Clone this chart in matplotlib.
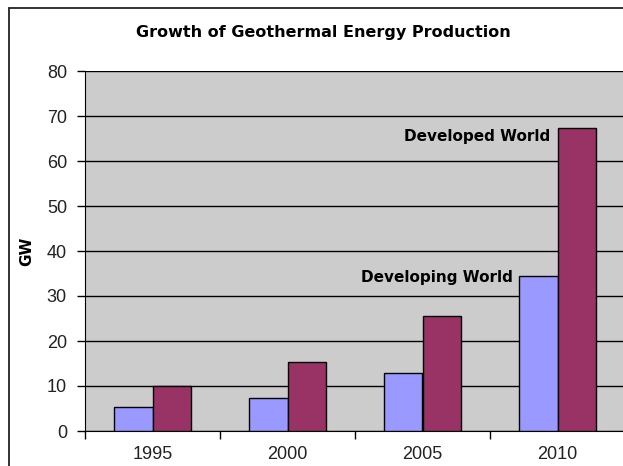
import numpy as np
import matplotlib
matplotlib.use("Agg")
import matplotlib.pyplot as plt
from matplotlib.patches import Rectangle

years = ["1995", "2000", "2005", "2010"]
developing = [5.4, 7.4, 12.9, 34.4]
developed = [10.1, 15.3, 25.5, 67.4]
yticks = [0, 10, 20, 30, 40, 50, 60, 70, 80]

plt.rcParams['font.family'] = ['Liberation Sans', 'DejaVu Sans']
bold_font = ['DejaVu Sans']

fig = plt.figure(figsize=(6.23, 4.66), dpi=100)
fig.patch.set_facecolor('white')

# chart frame (cut off on the right and bottom like the original)
fig.patches.append(Rectangle((9 / 623, -0.1), 1.2, 1 - 8 / 466 + 0.1,
                             transform=fig.transFigure, fill=False,
                             edgecolor='#222222', linewidth=1.3))

ax = fig.add_axes([85 / 623, 35 / 466, 540 / 623, 360 / 466])
ax.set_facecolor('#CCCCCC')

x = np.arange(len(years))
w = 0.285
ax.bar(x - w / 2, developing, w, color='#9999FF', edgecolor='black', linewidth=1, zorder=3)
ax.bar(x + w / 2, developed, w, color='#993366', edgecolor='black', linewidth=1, zorder=3)

ax.set_xlim(-0.5, 3.5)
ax.set_ylim(0, 80)
ax.set_yticks(yticks)
ax.yaxis.grid(True, color='black', linewidth=1)
ax.set_axisbelow(True)
ax.tick_params(axis='y', direction='out', length=6, width=1, labelsize=13, pad=7,
               labelcolor='#222222')

ax.set_xticks(x)
ax.set_xticklabels(years)
ax.set_xticks(np.arange(-0.5, 3.6, 1), minor=True)
ax.tick_params(axis='x', which='major', length=0, labelsize=13, pad=11,
               labelcolor='#222222')
ax.tick_params(axis='x', which='minor', direction='out', length=6, width=1)

for s in ['top', 'right']:
    ax.spines[s].set_visible(False)
ax.spines['left'].set_color('black')
ax.spines['bottom'].set_color('black')

ax.set_ylabel("GW", fontsize=11, fontweight='bold', family=bold_font, labelpad=9)

ax.text(2.944, 65.4, "Developed World", ha='right', va='center',
        fontsize=11, fontweight='bold', family=bold_font)
ax.text(2.670, 34.2, "Developing World", ha='right', va='center',
        fontsize=11, fontweight='bold', family=bold_font)

fig.text(323 / 623, 1 - 33 / 466, "Growth of Geothermal Energy Production",
         ha='center', va='center', fontsize=11.5, fontweight='bold', family=bold_font)

fig.savefig('out.png', dpi=100)
